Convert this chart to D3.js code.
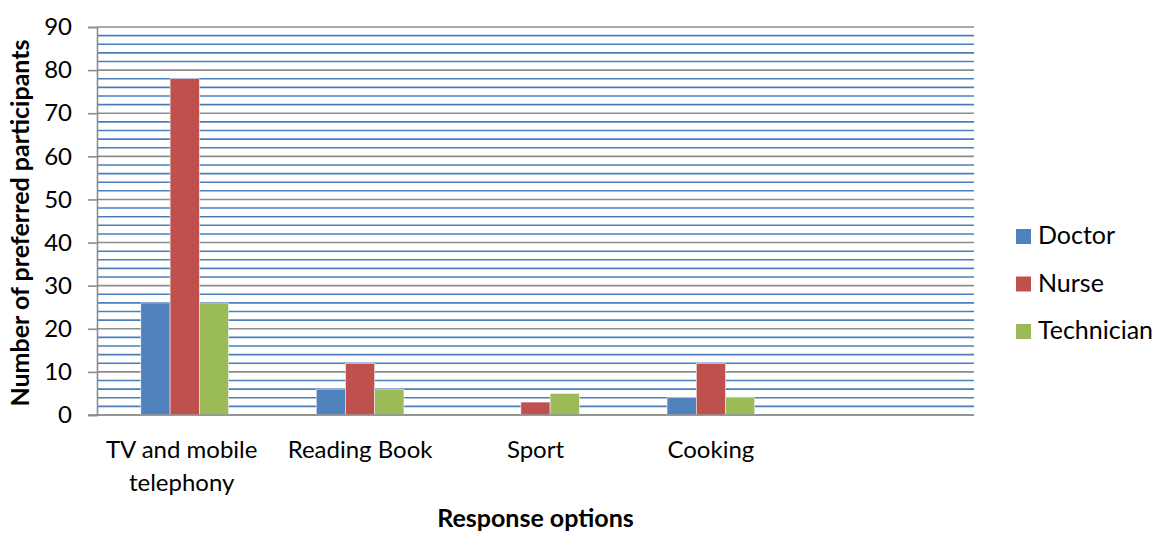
<!DOCTYPE html>
<html>
<head>
<meta charset="utf-8">
<script src="https://cdn.jsdelivr.net/npm/d3@7"></script>
<style>
  body { margin: 0; background: #fff; }
  svg text { font-family: Lato, "Open Sans", sans-serif; fill: #000; }
</style>
</head>
<body>
<div id="chart"></div>
<script>
// chart data
var categories = ["TV and mobile telephony", "Reading Book", "Sport", "Cooking", ""];
var seriesNames = ["Doctor", "Nurse", "Technician"];
var doctorValues = [26, 6, 0, 4, null];
var nurseValues = [78, 12, 3, 12, null];
var technicianValues = [26, 6, 5, 4, null];
var yTicks = [0, 10, 20, 30, 40, 50, 60, 70, 80, 90];

var colors = ["#4F81BD", "#C0504D", "#9BBB59"];
var seriesValues = [doctorValues, nurseValues, technicianValues];

var svgWidth = 1154;
var svgHeight = 533;

var margin = { top: 27, right: 180, bottom: 118, left: 97 };
var chartWidth = 974 - margin.left;
var chartHeight = 415 - margin.top;

var svg = d3.select("#chart")
  .append("svg")
  .attr("width", svgWidth)
  .attr("height", svgHeight);

var chartGroup = svg.append("g")
  .attr("transform", `translate(${margin.left}, ${margin.top})`);

var xScale = d3.scaleBand()
  .domain(d3.range(categories.length))
  .range([0, chartWidth]);

var barWidth = xScale.bandwidth() / 6;

var x1Scale = d3.scaleBand()
  .domain(d3.range(seriesNames.length))
  .range([xScale.bandwidth() / 2 - barWidth * 1.5, xScale.bandwidth() / 2 + barWidth * 1.5]);

var yScale = d3.scaleLinear()
  .domain([0, 90])
  .range([chartHeight, 0]);

// minor gridlines every 2
var minorTicks = d3.range(2, 90, 2).filter(d => d % 10 !== 0);
chartGroup.append("g")
  .selectAll("line")
  .data(minorTicks)
  .enter()
  .append("line")
  .attr("x1", 0)
  .attr("x2", chartWidth)
  .attr("y1", d => yScale(d))
  .attr("y2", d => yScale(d))
  .attr("stroke", "#4A7EBB")
  .attr("stroke-width", 1.6);

// major gridlines
chartGroup.append("g")
  .selectAll("line")
  .data(yTicks)
  .enter()
  .append("line")
  .attr("x1", 0)
  .attr("x2", chartWidth)
  .attr("y1", d => yScale(d))
  .attr("y2", d => yScale(d))
  .attr("stroke", "#8C8C8C")
  .attr("stroke-width", 1.6);

// bars
categories.forEach(function(cat, i) {
  var g = chartGroup.append("g")
    .attr("transform", `translate(${xScale(i)}, 0)`);
  seriesValues.forEach(function(vals, s) {
    if (vals[i] == null || vals[i] === 0) return;
    g.append("rect")
      .attr("x", x1Scale(s))
      .attr("y", yScale(vals[i]))
      .attr("width", x1Scale.bandwidth())
      .attr("height", chartHeight - yScale(vals[i]))
      .attr("fill", colors[s])
      .attr("stroke", "#f2f2f2")
      .attr("stroke-width", 0.6);
  });
});

// y axis
var leftAxis = d3.axisLeft(yScale)
  .tickValues(yTicks)
  .tickSize(9)
  .tickPadding(16);

var yAxis = chartGroup.append("g").call(leftAxis);
yAxis.select(".domain").attr("stroke", "#8C8C8C").attr("stroke-width", 1.6);
yAxis.selectAll(".tick line").attr("stroke", "#8C8C8C").attr("stroke-width", 1.6);
yAxis.selectAll(".tick text")
  .style("font-size", "24px")
  .style("font-family", "Lato, sans-serif")
  .attr("fill", "#000");

// x axis line
chartGroup.append("line")
  .attr("x1", -9)
  .attr("x2", chartWidth)
  .attr("y1", chartHeight)
  .attr("y2", chartHeight)
  .attr("stroke", "#8C8C8C")
  .attr("stroke-width", 1.6);

// category labels
var catLabels = chartGroup.append("g");
categories.forEach(function(cat, i) {
  var lines = cat === "TV and mobile telephony" ? ["TV and mobile", "telephony"] : [cat];
  var t = catLabels.append("text")
    .attr("text-anchor", "middle")
    .style("font-size", "24px");
  lines.forEach(function(l, k) {
    t.append("tspan")
      .attr("x", xScale(i) + xScale.bandwidth() / 2 - (lines.length > 1 ? 3 : 0))
      .attr("y", chartHeight + 43 + k * 33)
      .text(l);
  });
});

// axis titles
svg.append("text")
  .attr("transform", `translate(29, ${margin.top + chartHeight / 2 + 2}) rotate(-90)`)
  .attr("text-anchor", "middle")
  .style("font-size", "25px")
  .style("font-weight", "bold")
  .text("Number of preferred participants");

svg.append("text")
  .attr("x", margin.left + chartWidth / 2)
  .attr("y", 527)
  .attr("text-anchor", "middle")
  .style("font-size", "25px")
  .style("font-weight", "bold")
  .text("Response options");

// legend
var legend = svg.append("g")
  .attr("transform", "translate(1016, 229)");

seriesNames.forEach(function(name, s) {
  var row = legend.append("g")
    .attr("transform", `translate(0, ${s * 47.5})`);
  row.append("rect")
    .attr("width", 15)
    .attr("height", 15)
    .attr("fill", colors[s]);
  row.append("text")
    .attr("x", 22)
    .attr("y", 15)
    .style("font-size", "25px")
    .text(name);
});
</script>
</body>
</html>
